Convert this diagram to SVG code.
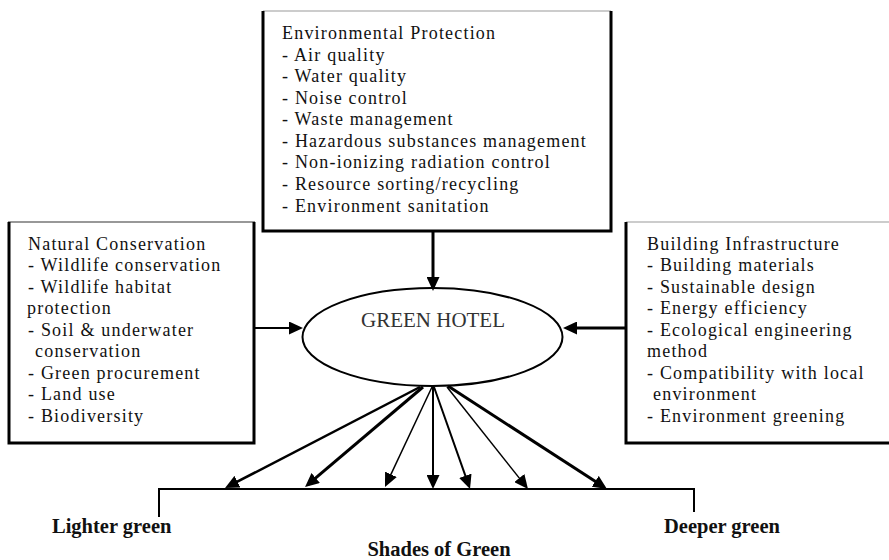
<svg xmlns="http://www.w3.org/2000/svg" width="889" height="560" viewBox="0 0 889 560">
<style>
.t{font-family:"Liberation Serif","Times New Roman",serif;font-size:18px;letter-spacing:1.2px;fill:#111}
.b{font-family:"Liberation Serif","Times New Roman",serif;font-size:20.5px;font-weight:bold;fill:#111}
.h{font-family:"Liberation Serif","Times New Roman",serif;font-size:21px;fill:#333}
.thick{stroke:#000;fill:none;stroke-width:3}
.thin{stroke:#999;fill:none;stroke-width:1}
.c{stroke:#000;fill:none;marker-end:url(#ah)}
</style>
<defs>
<marker id="ah" markerUnits="userSpaceOnUse" markerWidth="14" markerHeight="13" refX="10" refY="6.5" orient="auto">
<path d="M0,0 L14,6.5 L0,13 z" fill="#000"/>
</marker>
</defs>
<rect width="889" height="560" fill="#fff"/>

<g id="env-protection">
<line class="thin" x1="263" y1="11" x2="611" y2="11"/>
<polyline class="thick" points="263,11 263,231 611,231 611,11"/>
<text class="t" x="282" y="39">Environmental Protection</text>
<text class="t" x="282" y="61">- Air quality</text>
<text class="t" x="282" y="82">- Water quality</text>
<text class="t" x="282" y="104">- Noise control</text>
<text class="t" x="282" y="125">- Waste management</text>
<text class="t" x="282" y="147">- Hazardous substances management</text>
<text class="t" x="282" y="168">- Non-ionizing radiation control</text>
<text class="t" x="282" y="190">- Resource sorting/recycling</text>
<text class="t" x="282" y="212">- Environment sanitation</text>
</g>

<g id="natural-conservation">
<line stroke="#333" stroke-width="1.2" x1="8" y1="222" x2="255" y2="222"/>
<polyline class="thick" points="9,222 9,443 254,443 254,222"/>
<text class="t" x="28" y="249.5">Natural Conservation</text>
<text class="t" x="28" y="271">- Wildlife conservation</text>
<text class="t" x="28" y="292.5">- Wildlife habitat</text>
<text class="t" x="27" y="314">protection</text>
<text class="t" x="28" y="335.5">- Soil &amp; underwater</text>
<text class="t" x="35" y="357">conservation</text>
<text class="t" x="28" y="378.5">- Green procurement</text>
<text class="t" x="28" y="400">- Land use</text>
<text class="t" x="28" y="421.5">- Biodiversity</text>
</g>

<g id="building-infrastructure">
<line class="thin" x1="626" y1="222" x2="889" y2="222"/>
<polyline class="thick" points="626,222 626,443 889,443"/>
<text class="t" x="647" y="249.5">Building Infrastructure</text>
<text class="t" x="647" y="271">- Building materials</text>
<text class="t" x="647" y="292.5">- Sustainable design</text>
<text class="t" x="647" y="314">- Energy efficiency</text>
<text class="t" x="647" y="335.5">- Ecological engineering</text>
<text class="t" x="647" y="357">method</text>
<text class="t" x="647" y="378.5">- Compatibility with local</text>
<text class="t" x="653" y="400">environment</text>
<text class="t" x="647" y="421.5">- Environment greening</text>
</g>

<g id="green-hotel">
<ellipse cx="432.5" cy="337" rx="130" ry="49" fill="#fff" stroke="#000" stroke-width="2"/>
<text class="h" x="433" y="327" text-anchor="middle">GREEN HOTEL</text>
</g>

<g id="shades-scale">
<polyline stroke="#000" stroke-width="2" fill="none" points="159,517 159,489 694,489 694,512"/>
<text class="b" x="52" y="533">Lighter green</text>
<text class="b" x="664" y="533">Deeper green</text>
<text class="b" x="439" y="556" text-anchor="middle">Shades of Green</text>
</g>

<g id="connectors">
<line class="c" stroke-width="3" x1="433" y1="231" x2="433" y2="287"/>
<line class="c" stroke-width="2" x1="254" y1="328" x2="299" y2="328"/>
<line class="c" stroke-width="3" x1="626" y1="328" x2="567" y2="328"/>
<line class="c" stroke-width="2.5" x1="420" y1="387" x2="228.6" y2="486.2"/>
<line class="c" stroke-width="3" x1="423" y1="387" x2="308.1" y2="484.4"/>
<line class="c" stroke-width="1.5" x1="432" y1="387" x2="386.7" y2="483.4"/>
<line class="c" stroke-width="2" x1="433" y1="387" x2="433" y2="485"/>
<line class="c" stroke-width="2" x1="434" y1="387" x2="468.7" y2="485.2"/>
<line class="c" stroke-width="1.5" x1="447" y1="387" x2="525.5" y2="485.9"/>
<line class="c" stroke-width="3" x1="448" y1="386" x2="603.6" y2="486.8"/>
</g>
</svg>
